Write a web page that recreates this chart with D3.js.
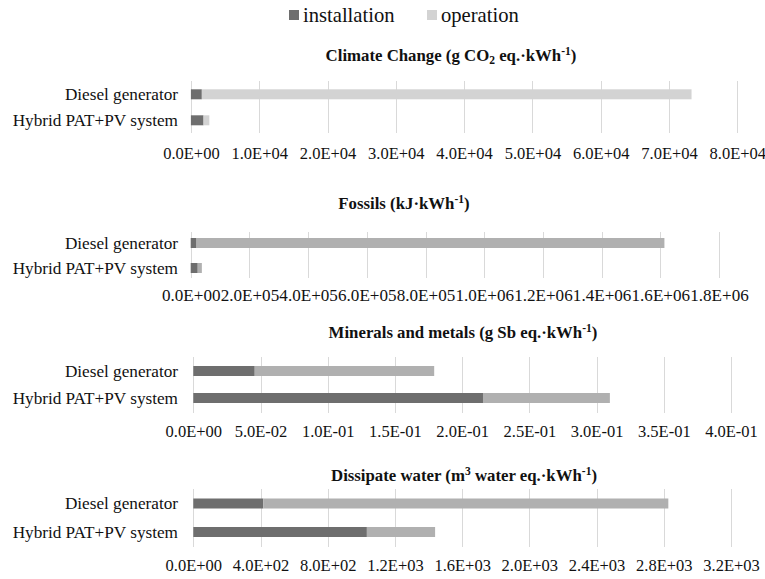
<!DOCTYPE html>
<html>
<head>
<meta charset="utf-8">
<script src="https://cdn.jsdelivr.net/npm/d3@7"></script>
<style>
  html, body { margin: 0; padding: 0; background: #fff; }
  svg { display: block; }
</style>
</head>
<body>
<svg id="chart" width="765" height="579"></svg>
<script>
// ---- data ----
const categories = ["Diesel generator", "Hybrid PAT+PV system"];
const seriesNames = ["installation", "operation"];

const climateInstallation = [1.6e3, 1.85e3];
const climateOperation    = [7.17e4, 0.85e3];
const climateTicks = [0, 1e4, 2e4, 3e4, 4e4, 5e4, 6e4, 7e4, 8e4];

const fossilsInstallation = [2.0e4, 2.4e4];
const fossilsOperation    = [1.594e6, 1.4e4];
const fossilsTicks = [0, 2e5, 4e5, 6e5, 8e5, 1e6, 1.2e6, 1.4e6, 1.6e6, 1.8e6];

const mineralsInstallation = [0.0457, 0.2155];
const mineralsOperation    = [0.1335, 0.0944];
const mineralsTicks = [0, 0.05, 0.1, 0.15, 0.2, 0.25, 0.3, 0.35, 0.4];

const waterInstallation = [416, 1033];
const waterOperation    = [2411, 406];
const waterTicks = [0, 400, 800, 1200, 1600, 2000, 2400, 2800, 3200];

// ---- pick an installed serif font ----
function pickFont() {
  const ctx = document.createElement("canvas").getContext("2d");
  const sample = "Hybrid PAT+PV system 0.0E+00 WWmmii";
  ctx.font = "40px monospace"; const wMono = ctx.measureText(sample).width;
  const cands = ["Liberation Serif", "Times New Roman", "Times", "Tinos", "DejaVu Serif", "Noto Serif"];
  for (const f of cands) {
    ctx.font = `40px "${f}", monospace`;
    if (Math.abs(ctx.measureText(sample).width - wMono) > 1) return `"${f}", serif`;
  }
  return "serif";
}
const FONT = pickFont();

// ---- layout / style ----
const colInstall = "#6e6e6e";
const gridColor = "#d9d9d9";

const panels = [
  { title: [["Climate Change (g CO", ""], ["2", "sub"], [" eq.·kWh", ""], ["-1", "sup"], [")", ""]],
    titleX: 451, titleY: 55, inst: climateInstallation, op: climateOperation, ticks: climateTicks,
    x0: 190.9, x1: 737.3, barY: [89.3, 115.3], gridTop: 81, gridBottom: 133, labelY: 155, opColor: "#d3d3d3", tickFont: 16.5 },
  { title: [["Fossils (kJ·kWh", ""], ["-1", "sup"], [")", ""]],
    titleX: 404, titleY: 203, inst: fossilsInstallation, op: fossilsOperation, ticks: fossilsTicks,
    x0: 190.7, x1: 719, barY: [238, 263], gridTop: 232, gridBottom: 278, labelY: 297, opColor: "#b0b0b0", tickFont: 17.1 },
  { title: [["Minerals and metals (g Sb eq.·kWh", ""], ["-1", "sup"], [")", ""]],
    titleX: 463, titleY: 332, inst: mineralsInstallation, op: mineralsOperation, ticks: mineralsTicks,
    x0: 193.3, x1: 731, barY: [366, 393], gridTop: 357, gridBottom: 413, labelY: 433, opColor: "#b0b0b0", tickFont: 16.5 },
  { title: [["Dissipate water (m", ""], ["3", "sup"], [" water eq.·kWh", ""], ["-1", "sup"], [")", ""]],
    titleX: 464, titleY: 475, inst: waterInstallation, op: waterOperation, ticks: waterTicks,
    x0: 193.3, x1: 731, barY: [498.5, 527], gridTop: 489, gridBottom: 547, labelY: 567, opColor: "#b0b0b0", tickFont: 16.5 }
];

function fmtE(v) {
  if (v === 0) return "0.0E+00";
  let e = Math.floor(Math.log10(Math.abs(v)) + 1e-9);
  let m = v / Math.pow(10, e);
  if (Math.round(m * 10) / 10 >= 10) { m /= 10; e += 1; }
  const sign = e < 0 ? "-" : "+";
  const ae = Math.abs(e);
  return m.toFixed(1) + "E" + sign + (ae < 10 ? "0" + ae : ae);
}

const svg = d3.select("#chart").style("font-family", FONT);

// ---- legend ----
const legend = svg.append("g");
const legendItems = [
  { name: seriesNames[0], color: colInstall, sx: 289, tx: 303 },
  { name: seriesNames[1], color: "#d3d3d3", sx: 427, tx: 441 }
];
legendItems.forEach(d => {
  legend.append("rect").attr("x", d.sx).attr("y", 10).attr("width", 10).attr("height", 10).attr("fill", d.color);
  legend.append("text").attr("x", d.tx).attr("y", 22).attr("font-size", 20.6)
    .style("font-family", FONT).attr("fill", "#111").text(d.name);
});

// ---- panels ----
panels.forEach(p => {
  const g = svg.append("g");
  const maxV = p.ticks[p.ticks.length - 1];
  const x = d3.scaleLinear().domain([0, maxV]).range([p.x0, p.x1]);
  const barH = 10;
  const y = d3.scaleOrdinal().domain(categories).range(p.barY);

  // title
  const t = g.append("text").attr("x", p.titleX).attr("y", p.titleY + 5.5)
    .attr("text-anchor", "middle").attr("font-weight", "bold").attr("font-size", 16.8)
    .style("font-family", FONT).attr("fill", "#111");
  p.title.forEach(([s, kind]) => {
    const ts = t.append("tspan").text(s);
    if (kind === "sub") ts.attr("font-size", 11.5).attr("baseline-shift", "-3");
    if (kind === "sup") ts.attr("font-size", 11.5).attr("baseline-shift", "6");
  });

  // gridlines
  g.selectAll("line.grid").data(p.ticks).enter().append("line")
    .attr("x1", d => Math.round(x(d)) + 0.5).attr("x2", d => Math.round(x(d)) + 0.5)
    .attr("y1", p.gridTop).attr("y2", p.gridBottom)
    .attr("stroke", gridColor).attr("stroke-width", 1);

  // tick labels via axis
  const axis = d3.axisBottom(x).tickValues(p.ticks).tickFormat(fmtE).tickSize(0).tickPadding(0);
  const ag = g.append("g").attr("transform", `translate(0,${p.labelY - 6})`).call(axis);
  ag.attr("font-family", null);
  ag.select(".domain").remove();
  ag.selectAll("text").attr("font-size", p.tickFont).style("font-family", FONT)
    .attr("fill", "#111").attr("dy", "0.6em");

  // bars
  categories.forEach((c, i) => {
    g.append("rect").attr("x", x(0)).attr("y", y(c))
      .attr("width", x(p.inst[i]) - x(0)).attr("height", barH).attr("fill", colInstall);
    g.append("rect").attr("x", x(p.inst[i])).attr("y", y(c))
      .attr("width", x(p.inst[i] + p.op[i]) - x(p.inst[i])).attr("height", barH).attr("fill", p.opColor);
    g.append("text").attr("x", 178).attr("y", y(c) + barH / 2 + 5.8)
      .attr("text-anchor", "end").attr("font-size", 17.2).style("font-family", FONT)
      .attr("fill", "#111").text(c);
  });
});
</script>
</body>
</html>
